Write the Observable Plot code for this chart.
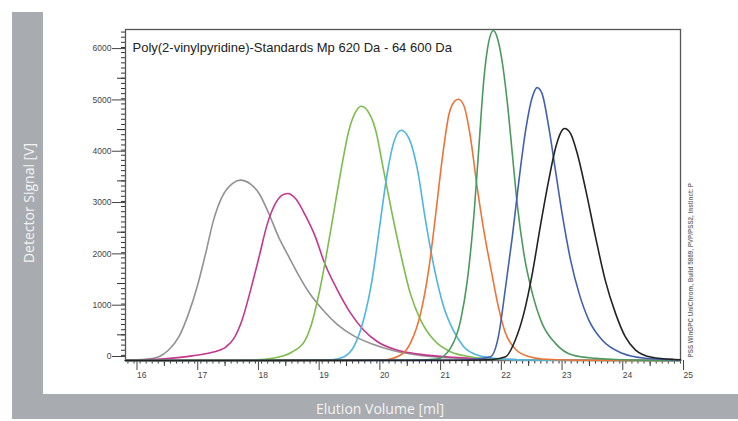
<!DOCTYPE html>
<html>
<head>
<meta charset="utf-8">
<script src="https://cdn.jsdelivr.net/npm/d3@7"></script>
<script src="https://cdn.jsdelivr.net/npm/@observablehq/plot@0.6"></script>
<style>
  html, body { margin: 0; padding: 0; background: #fff; }
  #chart { position: relative; width: 738px; height: 421px; overflow: hidden; background: #fff; }
  .band { position: absolute; background: #a8abaf; }
  .axis-title { position: absolute; color: #f4f4f4; font-family: "Open Sans", sans-serif; font-size: 14px; white-space: nowrap; }
  #chart svg { position: absolute; left: 0; top: 0; }
</style>
</head>
<body>
<div id="chart">
  <div class="band" style="left:12px;top:12px;width:31px;height:407px"></div>
  <div class="band" style="left:12px;top:394px;width:726px;height:25px"></div>
  <div class="axis-title" style="left:28px;top:203px;transform:translate(-50%,-50%) rotate(-90deg)">Detector Signal [V]</div>
  <div class="axis-title" style="left:380px;top:408px;transform:translate(-50%,-50%)">Elution Volume [ml]</div>
</div>
<script>
// Poly(2-vinylpyridine) calibration standards: elution volume [ml] vs detector signal
const chartTitle = "Poly(2-vinylpyridine)-Standards Mp 620 Da - 64 600 Da";
const softwareNote = "PSS WinGPC UniChrom, Build 5869, PVP/PSS2, Instinct: P";

const vol1 = [15.86, 16.2, 16.41, 16.57, 16.74, 16.90, 17.04, 17.18, 17.31, 17.45, 17.62, 17.75, 17.92, 18.06, 18.22, 18.38, 18.55, 18.71, 18.88, 19.13, 19.35, 19.62, 19.90, 20.28, 20.72, 21.38, 22.0, 23.0, 25.0];
const sig1 = [5, 25, 74, 204, 464, 918, 1437, 2087, 2735, 3189, 3449, 3514, 3436, 3255, 2865, 2410, 2021, 1664, 1330, 960, 700, 480, 330, 190, 100, 40, 18, 5, 0];

const vol2 = [15.86, 16.5, 16.96, 17.29, 17.51, 17.64, 17.78, 17.92, 18.06, 18.19, 18.33, 18.44, 18.53, 18.66, 18.82, 18.99, 19.13, 19.35, 19.57, 19.78, 20.01, 20.33, 20.72, 21.27, 22.0, 23.0, 25.0];
const sig2 = [5, 35, 90, 160, 260, 420, 788, 1372, 2021, 2638, 3060, 3222, 3255, 3157, 2832, 2400, 1923, 1372, 918, 594, 366, 204, 120, 62, 25, 8, 0];

const vol3 = [15.86, 17.5, 18.0, 18.28, 18.61, 18.82, 18.91, 19.07, 19.24, 19.40, 19.54, 19.65, 19.74, 19.84, 19.98, 20.11, 20.25, 20.39, 20.55, 20.72, 20.94, 21.21, 21.54, 22.0, 23.0, 25.0];
const sig3 = [0, 5, 15, 43, 171, 399, 658, 1437, 2540, 3644, 4487, 4843, 4954, 4876, 4487, 3708, 2865, 2087, 1308, 788, 399, 171, 74, 25, 5, 0];

const vol4 = [15.86, 18.5, 19.24, 19.46, 19.62, 19.78, 19.92, 20.06, 20.17, 20.28, 20.40, 20.53, 20.67, 20.80, 20.94, 21.10, 21.27, 21.43, 21.65, 21.93, 22.5, 25.0];
const sig4 = [0, 3, 10, 74, 269, 788, 1567, 2735, 3644, 4260, 4487, 4325, 3708, 2735, 1826, 1048, 561, 269, 107, 43, 10, 0];

const vol5 = [15.86, 19.5, 20.11, 20.39, 20.55, 20.72, 20.86, 20.97, 21.08, 21.19, 21.27, 21.34, 21.43, 21.54, 21.65, 21.76, 21.90, 22.0, 22.11, 22.3, 22.5, 22.8, 23.5, 25.0];
const sig5 = [0, 3, 10, 107, 334, 918, 1826, 2865, 3968, 4812, 5038, 5090, 4974, 4357, 3384, 2540, 1650, 1050, 560, 200, 80, 25, 5, 0];

const vol6 = [15.86, 20.5, 20.99, 21.21, 21.38, 21.49, 21.60, 21.68, 21.76, 21.84, 21.92, 21.98, 22.06, 22.15, 22.23, 22.31, 22.42, 22.56, 22.72, 22.94, 23.22, 23.60, 24.2, 25.0];
const sig6 = [0, 5, 30, 237, 788, 1567, 2865, 4162, 5460, 6200, 6430, 6300, 5850, 5007, 4033, 3060, 2087, 1308, 724, 334, 107, 43, 10, 0];

const vol7 = [15.86, 21.0, 21.5, 21.87, 22.0, 22.12, 22.23, 22.34, 22.45, 22.56, 22.64, 22.72, 22.83, 22.94, 23.05, 23.19, 23.33, 23.49, 23.71, 24.04, 24.42, 25.0];
const sig7 = [0, 3, 15, 74, 460, 1437, 2410, 3514, 4487, 5135, 5318, 5201, 4551, 3708, 2865, 1956, 1308, 788, 399, 140, 43, 10];

const vol8 = [15.86, 21.5, 21.9, 22.12, 22.28, 22.42, 22.56, 22.69, 22.83, 22.94, 23.02, 23.09, 23.19, 23.30, 23.44, 23.60, 23.76, 23.93, 24.09, 24.26, 24.53, 24.9, 25.0];
const sig8 = [0, 5, 20, 74, 399, 918, 1698, 2605, 3514, 4130, 4422, 4520, 4422, 4033, 3319, 2410, 1567, 918, 464, 204, 62, 20, 15];

const traceColors = ["#929292", "#c4378e", "#7dbd4c", "#4db5e4", "#ee7337", "#4b9a5d", "#4160b0", "#222222"];

const xMajor = [16, 17, 18, 19, 20, 21, 22, 23, 24, 25];
const yMajor = [0, 1000, 2000, 3000, 4000, 5000, 6000];

// tick subdivisions of the axes
const xMedium = d3.range(165, 250, 10).map(d => d / 10);
const xMinor = d3.range(159, 251).map(d => d / 10);
const yMedium = d3.range(500, 6450, 1000);
const yMinor = d3.range(100, 6450, 100);

const traces = [
  [vol1, sig1], [vol2, sig2], [vol3, sig3], [vol4, sig4],
  [vol5, sig5], [vol6, sig6], [vol7, sig7], [vol8, sig8]
];
const rows = traces.flatMap(([vol, sig], i) =>
  vol.map((v, j) => ({trace: i, volume: v, signal: sig[j], color: traceColors[i]}))
);

const font = "Arial, 'Liberation Sans', sans-serif";
const tickColor = "#333";

const chart = Plot.plot({
  width: 738,
  height: 421,
  marginLeft: 125,
  marginRight: 58,
  marginTop: 29,
  marginBottom: 61,
  style: {fontFamily: font, background: "transparent", overflow: "visible"},
  x: {domain: [15.86, 25]},
  y: {domain: [0, 6450]},
  color: {type: "identity"},
  marks: [
    Plot.axisX(xMinor, {anchor: "bottom", tickSize: 3.5, text: null, tickFormat: () => "", color: tickColor, label: null}),
    Plot.axisX(xMedium, {anchor: "bottom", tickSize: 6, text: null, tickFormat: () => "", color: tickColor, label: null}),
    Plot.axisX(xMajor, {anchor: "bottom", tickSize: 10, tickPadding: 1, textAnchor: "start", dx: 3, fontSize: 8.5, color: "#444", label: null, tickFormat: d => String(d)}),
    Plot.axisY(yMinor, {anchor: "left", tickSize: 4, text: null, tickFormat: () => "", color: tickColor, label: null}),
    Plot.axisY(yMedium, {anchor: "left", tickSize: 8, text: null, tickFormat: () => "", color: tickColor, label: null}),
    Plot.axisY(yMajor, {anchor: "left", tickSize: 13, tickPadding: 1, dy: -4, fontSize: 8.5, color: "#444", label: null, tickFormat: d => String(d)}),
    Plot.frame({stroke: "#555", strokeWidth: 1.3}),
    Plot.line(rows, {x: "volume", y: "signal", z: "trace", stroke: "color", strokeWidth: 1.6, curve: "monotone-x"}),
    Plot.text([chartTitle], {text: d => d, frameAnchor: "top-left", textAnchor: "start", lineAnchor: "middle", dx: 7, dy: 18, fontSize: 13, fill: "#222"}),
    Plot.text([softwareNote], {text: d => d, frameAnchor: "bottom-right", rotate: -90, textAnchor: "start", lineAnchor: "middle", dx: 10, dy: -3, fontSize: 6.3, fontWeight: "bold", fill: "#777"})
  ]
});

document.getElementById("chart").appendChild(chart);
</script>
</body>
</html>
